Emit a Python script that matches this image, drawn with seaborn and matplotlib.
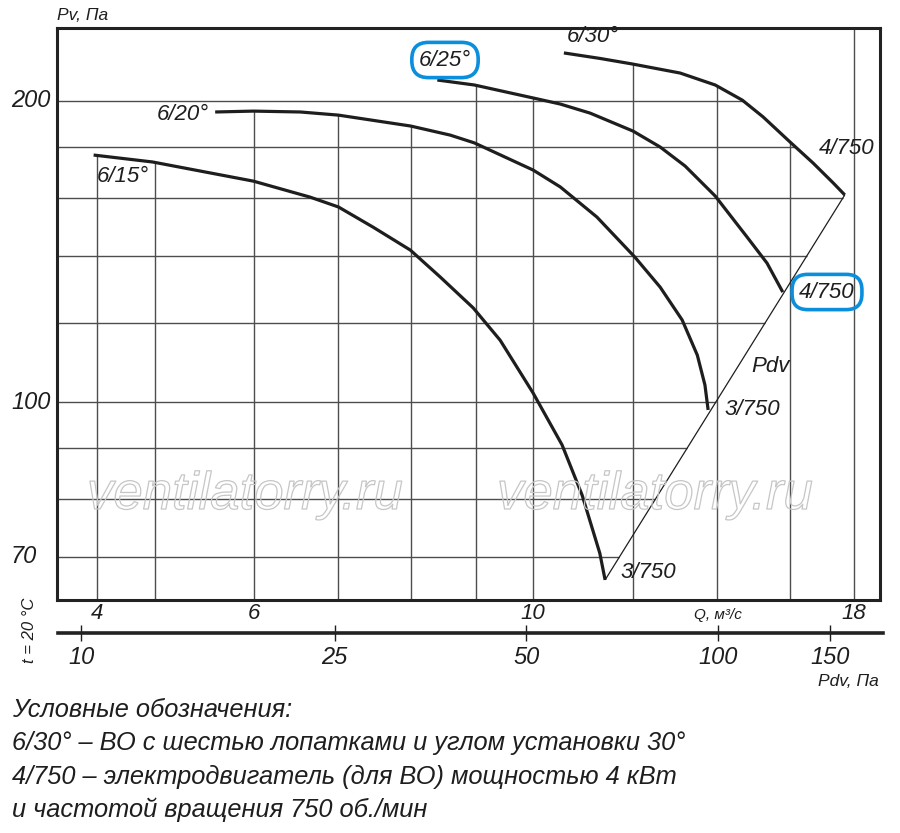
import numpy as np
import pandas as pd
import matplotlib
matplotlib.use("Agg")
import matplotlib.pyplot as plt
import seaborn as sns
from matplotlib import transforms, patheffects, font_manager
from matplotlib.ticker import NullLocator

# ---------------- data ----------------
curve_labels = ["6/15°", "6/20°", "6/25°", "6/30°"]

q_615 = [4.47, 4.98, 5.99, 6.645, 7.00, 7.458, 7.985, 8.433, 8.961, 9.414, 10.0, 10.545, 10.94, 11.30, 11.41]
pv_615 = [176.6, 173.8, 166.3, 160.3, 156.7, 149.6, 141.9, 133.4, 124.2, 115.3, 102.1, 90.6, 80.7, 70.6, 66.4]

q_620 = [5.585, 5.99, 6.53, 7.00, 7.99, 8.59, 8.98, 10.0, 10.51, 11.24, 12.05, 12.62, 13.14, 13.51, 13.70, 13.78]
pv_620 = [195.0, 195.4, 195.0, 193.6, 188.8, 184.9, 181.6, 170.6, 164.1, 153.1, 139.6, 130.3, 120.8, 111.4, 104.0, 98.2]

q_625 = [8.39, 8.98, 10.0, 10.51, 11.10, 12.01, 12.62, 13.21, 13.96, 14.80, 15.35, 15.80]
pv_625 = [209.9, 207.5, 201.4, 198.6, 194.5, 186.6, 179.9, 172.2, 160.7, 146.2, 137.7, 128.8]

q_630 = [10.58, 11.30, 11.99, 13.09, 13.96, 14.67, 15.24, 16.01, 16.70, 17.33, 17.70]
pv_630 = [223.4, 220.6, 217.8, 213.3, 207.5, 200.4, 192.8, 182.0, 173.4, 165.6, 161.1]

pdv_line_q = [11.41, 17.70]
pdv_line_pv = [66.4, 161.1]

q_grid = [4.5, 5, 6, 7, 8, 9, 10, 12, 14, 16, 18]
pv_grid = [70, 80, 90, 100, 120, 140, 160, 180, 200]
q_ticks = [4.5, 6, 10, 18]
q_tick_labels = ["4", "6", "10", "18"]
pv_ticks = [70, 100, 200]
pv_tick_labels = ["70", "100", "200"]
pdv_ticks = [10, 25, 50, 100, 150]
pdv_tick_labels = ["10", "25", "50", "100", "150"]

Q_LIM = (4.18, 18.88)
PV_LIM = (63.4, 236.6)
PDV_LIM = (9.2, 181.6)

legend_lines = [
    "Условные обозначения:",
    "6/30° – ВО с шестью лопатками и углом установки 30°",
    "4/750 – электродвигатель (для ВО) мощностью 4 кВт",
    "и частотой вращения 750 об./мин",
]

# ---------------- style ----------------
sns.set_theme(style="white")
names = {f.name for f in font_manager.fontManager.ttflist}
base = "Liberation Sans" if "Liberation Sans" in names else "DejaVu Sans"
plt.rcParams["font.family"] = [base, "DejaVu Sans"]
plt.rcParams["font.style"] = "italic"
plt.rcParams["text.color"] = "#1e1e1e"

INK = "#1e1e1e"
GRID = "#4d4d4d"
BLUE = "#0b8fdc"

W, H = 900, 833
fig = plt.figure(figsize=(W / 100, H / 100), dpi=100)
fig.patch.set_facecolor("white")


def fx(x):
    return x / W


def fy(y):
    return 1 - y / H


ax = fig.add_axes([fx(57), fy(600), fx(880) - fx(57), fy(28) - fy(600)])
ax.set_xscale("log")
ax.set_yscale("log")
ax.set_xlim(Q_LIM)
ax.set_ylim(PV_LIM)
ax.set_facecolor("white")

curves = [(q_615, pv_615), (q_620, pv_620), (q_625, pv_625), (q_630, pv_630)]

# ---------------- grid, clipped at the curve envelope ----------------
def top_at(q):
    tops = []
    for qs, ps in curves:
        if qs[0] <= q <= qs[-1]:
            tops.append(10 ** np.interp(np.log10(q), np.log10(qs), np.log10(ps)))
    return max(tops) if tops else PV_LIM[1]


def right_at(p):
    ends = []
    for qs, ps in curves + [(pdv_line_q, pdv_line_pv)]:
        lq, lp = np.log10(qs), np.log10(ps)
        lv = np.log10(p)
        for i in range(len(qs) - 1, 0, -1):
            p0, p1 = lp[i - 1], lp[i]
            if min(p0, p1) <= lv <= max(p0, p1) and p0 != p1:
                t = (lv - p0) / (p1 - p0)
                ends.append(10 ** (lq[i - 1] + t * (lq[i] - lq[i - 1])))
                break
    return max(ends) if ends else Q_LIM[1]


ax.vlines(q_grid, PV_LIM[0], [top_at(q) for q in q_grid], colors=GRID, lw=1.0, zorder=1)
ax.hlines(pv_grid, Q_LIM[0], [right_at(p) for p in pv_grid], colors=GRID, lw=1.0, zorder=1)

# ---------------- curves ----------------
df = pd.concat(
    [pd.DataFrame({"Q": q, "Pv": p, "curve": lbl}) for (q, p), lbl in zip(curves, curve_labels)],
    ignore_index=True,
)
sns.lineplot(data=df, x="Q", y="Pv", units="curve", estimator=None, sort=False,
             color=INK, lw=2.3, ax=ax, legend=False, zorder=3)
pdv_df = pd.DataFrame({"Q": pdv_line_q, "Pv": pdv_line_pv})
sns.lineplot(data=pdv_df, x="Q", y="Pv", estimator=None, sort=False,
             color=INK, lw=0.9, ax=ax, legend=False, zorder=3)
for ln in ax.get_lines():
    ln.set_solid_joinstyle("round")
    ln.set_solid_capstyle("butt")

ax.set_xlabel("")
ax.set_ylabel("")
ax.xaxis.set_minor_locator(NullLocator())
ax.yaxis.set_minor_locator(NullLocator())
ax.set_xticks(q_ticks)
ax.set_xticklabels(q_tick_labels, fontsize=16)
ax.set_yticks([])
ax.tick_params(axis="x", length=0, pad=2, colors=INK)
for s in ax.spines.values():
    s.set_linewidth(2.2)
    s.set_color("#222222")
    s.set_visible(True)

# y tick labels (left-aligned as in the reference)
ytr = transforms.blended_transform_factory(fig.transFigure, ax.transData)
for v, lab in zip(pv_ticks, pv_tick_labels):
    fig.text(fx(11), v, lab, transform=ytr, ha="left", va="center", fontsize=17)

# ---------------- Pdv scale below ----------------
ax2 = fig.add_axes([fx(58), fy(633), fx(883) - fx(58), 0.0001])
ax2.set_xscale("log")
ax2.set_xlim(PDV_LIM)
ax2.patch.set_visible(False)
ax2.set_yticks([])
for side in ["top", "left", "right"]:
    ax2.spines[side].set_visible(False)
ax2.spines["bottom"].set_linewidth(2.6)
ax2.spines["bottom"].set_color("#222222")
ax2.xaxis.set_minor_locator(NullLocator())
ax2.set_xticks(pdv_ticks)
ax2.set_xticklabels(pdv_tick_labels, fontsize=17)
ax2.tick_params(axis="x", bottom=True, direction="inout", length=12, width=1.0,
                pad=3.5, colors=INK)

# ---------------- texts ----------------
def t(x, y, s, size=16, ha="center", va="center", **kw):
    return fig.text(fx(x), fy(y), s, ha=ha, va=va, fontsize=size, **kw)

t(57, 15, "Pv, Па", 12.5, ha="left")
t(718, 615, "Q, м³/с", 11)
t(848, 682, "Pdv, Па", 12.5)
t(30, 630, "t = 20 °C", 12, rotation=90)

t(97, 176, "6/15°", 16, ha="left")
t(183, 114, "6/20°", 16)
t(593, 37, "6/30°", 16)
t(847, 148, "4/750", 16)
t(771, 366, "Pdv", 16)
t(752, 410, "3/750", 16)
t(648, 572, "3/750", 16)

box = dict(boxstyle="round,pad=0.32,rounding_size=0.75", fc="none", ec=BLUE, lw=2.6)
t(445, 60, "6/25°", 16, bbox=box)
box2 = dict(boxstyle="round,pad=0.32,rounding_size=0.7", fc="none", ec=BLUE, lw=2.6)
t(827, 292, "4/750", 16, bbox=box2)

# watermark (outlined)
for cx in (245, 655):
    t(cx, 495, "ventilatorry.ru", 38, color=(1, 1, 1, 0), zorder=5,
      path_effects=[patheffects.Stroke(linewidth=0.9, foreground="#c6c6c6")])

# legend text
for y, line in zip((710, 743, 777, 810), legend_lines):
    t(12, y, line, 18.3, ha="left")

fig.savefig("out.png", dpi=100, facecolor="white")
